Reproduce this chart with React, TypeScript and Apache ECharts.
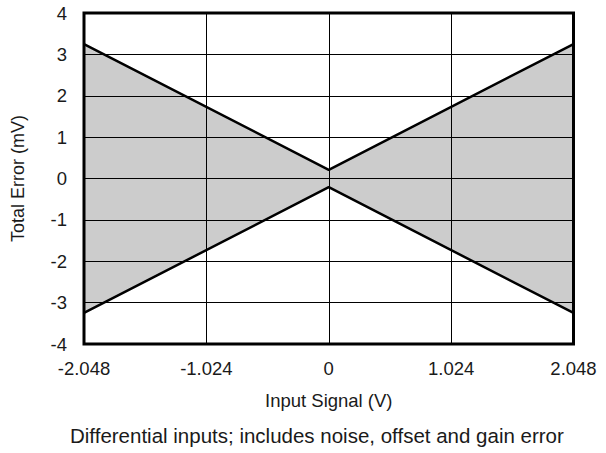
import React, { useEffect, useRef } from "react";
import * as echarts from "echarts";

const xValues = [-2.048, 0, 2.048];
const upperError = [3.25, 0.21, 3.25];
const lowerError = [-3.25, -0.21, -3.25];
const xTickLabels = ["-2.048", "-1.024", "0", "1.024", "2.048"];
const yTickLabels = ["-4", "-3", "-2", "-1", "0", "1", "2", "3", "4"];

const FONT = "'Liberation Sans', Arial, sans-serif";

export default function App() {
  const ref = useRef<HTMLDivElement>(null);
  useEffect(() => {
    if (!ref.current) return;
    const chart = echarts.init(ref.current, undefined, { renderer: "svg" });
    const upper = xValues.map((x, i) => [x, upperError[i]]);
    const lower = xValues.map((x, i) => [x, lowerError[i]]);
    chart.setOption({
      animation: false,
      textStyle: { fontFamily: FONT },
      grid: {
        left: 84,
        right: 32.5,
        top: 13,
        bottom: 109,
        show: true,
        borderColor: "#000",
        borderWidth: 3,
        z: 5,
      },
      xAxis: {
        type: "value",
        min: -2.048,
        max: 2.048,
        interval: 1.024,
        z: 3,
        name: "Input Signal (V)",
        nameLocation: "middle",
        nameGap: 47,
        nameTextStyle: { fontSize: 18.5, color: "#1a1a1a", fontFamily: FONT },
        axisLine: { show: false },
        axisTick: { show: false },
        axisLabel: {
          fontSize: 18.5,
          color: "#1a1a1a",
          margin: 14.5,
          fontFamily: FONT,
          formatter: (v: number) => xTickLabels[Math.round(v / 1.024) + 2],
        },
        splitLine: { show: true, lineStyle: { color: "#000", width: 1 } },
      },
      yAxis: {
        type: "value",
        min: -4,
        max: 4,
        interval: 1,
        z: 3,
        name: "Total Error (mV)",
        nameLocation: "middle",
        nameGap: 57.5,
        nameTextStyle: { fontSize: 18, color: "#1a1a1a", fontFamily: FONT },
        axisLine: { show: false },
        axisTick: { show: false },
        axisLabel: {
          fontSize: 18.5,
          color: "#1a1a1a",
          margin: 17,
          fontFamily: FONT,
          formatter: (v: number) => yTickLabels[Math.round(v) + 4],
        },
        splitLine: { show: true, lineStyle: { color: "#000", width: 1 } },
      },
      series: [
        {
          type: "line",
          data: upper,
          symbol: "none",
          z: 1,
          lineStyle: { width: 0 },
          areaStyle: { color: "#cccccc", opacity: 1, origin: "auto" },
        },
        {
          type: "line",
          data: lower,
          symbol: "none",
          z: 1,
          lineStyle: { width: 0 },
          areaStyle: { color: "#cccccc", opacity: 1, origin: "auto" },
        },
        {
          type: "line",
          data: upper,
          symbol: "none",
          z: 4,
          lineStyle: { color: "#000", width: 2.5 },
        },
        {
          type: "line",
          data: lower,
          symbol: "none",
          z: 4,
          lineStyle: { color: "#000", width: 2.5 },
        },
      ],
      graphic: [
        {
          type: "text",
          left: 70,
          top: 425,
          style: {
            text: "Differential inputs; includes noise, offset and gain error",
            fontSize: 20.5,
            fill: "#1a1a1a",
            fontFamily: FONT,
          },
        },
      ],
    });
    return () => chart.dispose();
  }, []);
  return (
    <div
      ref={ref}
      style={{ position: "absolute", left: 0, top: 0, width: 606, height: 453 }}
    />
  );
}
